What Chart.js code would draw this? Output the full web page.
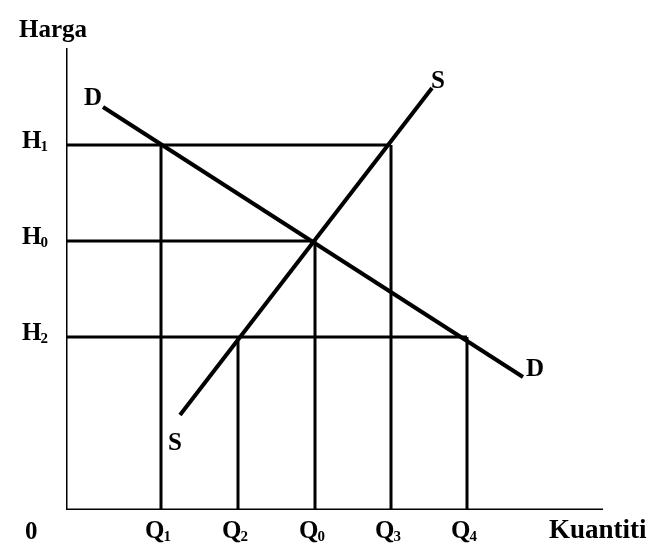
<!DOCTYPE html>
<html>
<head>
<meta charset="utf-8">
<script src="https://cdn.jsdelivr.net/npm/chart.js@4/dist/chart.umd.min.js"></script>
<style>
html,body{margin:0;padding:0;background:#fff;}
canvas{display:block;}
</style>
</head>
<body>
<canvas id="c" width="647" height="545"></canvas>
<script>
// Quantity levels (x) and price levels (y), in chart units
const qNames = ['Q1', 'Q2', 'Q0', 'Q3', 'Q4'];
const qValues = [95, 172, 249, 325, 401];
const hNames = ['H1', 'H0', 'H2'];
const hValues = [365, 269, 173];
// which price each quantity line rises to
const qTops = [365, 173, 269, 365, 173];
// which quantity each price line runs to
const hEnds = [325, 249, 401];
// Demand curve D endpoints
const demandX = [37, 457];
const demandY = [403, 133];
// Supply curve S endpoints
const supplyX = [114, 366];
const supplyY = [95, 422];
// axis extents
const xMax = 537;
const yMax = 462;
const axisTitleX = 'Kuantiti';
const axisTitleY = 'Harga';
const originLabel = '0';

const datasets = [];
const black = '#000';
function seg(xs, ys, w) {
  datasets.push({
    data: xs.map((x, i) => ({x: x, y: ys[i]})),
    showLine: true, borderColor: black, borderWidth: w,
    pointRadius: 0, fill: false, tension: 0, borderCapStyle: 'butt'
  });
}
// axes
seg([0, 0], [0, yMax], 3);
seg([0, xMax], [0, 0], 3);
// guides
qValues.forEach((q, i) => seg([q, q], [0, qTops[i]], 3));
hValues.forEach((h, i) => seg([0, hEnds[i]], [h, h], 3));
// curves
seg(demandX, demandY, 4);
seg(supplyX, supplyY, 4);

const FONT = '"Liberation Serif", "Times New Roman", serif';
function drawSub(ctx, label, x, y, align) {
  const main = label.charAt(0), sub = label.slice(1);
  ctx.font = 'bold 25px ' + FONT;
  const w1 = ctx.measureText(main).width;
  ctx.font = 'bold 15px ' + FONT;
  const w2 = ctx.measureText(sub).width;
  const total = w1 + w2 - 1;
  let sx = x;
  if (align === 'center') sx = x - total / 2;
  else if (align === 'right') sx = x - total;
  ctx.textAlign = 'left';
  ctx.textBaseline = 'alphabetic';
  ctx.font = 'bold 25px ' + FONT;
  ctx.fillText(main, sx, y);
  ctx.font = 'bold 15px ' + FONT;
  ctx.fillText(sub, sx + w1 - 1, y + 3);
}

const labelPlugin = {
  id: 'labels',
  afterDatasetsDraw(chart) {
    const ctx = chart.ctx;
    const xs = chart.scales.x, ys = chart.scales.y;
    ctx.save();
    ctx.fillStyle = black;
    const base = ys.getPixelForValue(0);
    qNames.forEach((n, i) => drawSub(ctx, n, xs.getPixelForValue(qValues[i]) - 3, base + 28, 'center'));
    hNames.forEach((n, i) => drawSub(ctx, n, xs.getPixelForValue(0) - 18, ys.getPixelForValue(hValues[i]) + 3, 'right'));
    ctx.font = 'bold 25px ' + FONT;
    ctx.textBaseline = 'alphabetic';
    ctx.textAlign = 'left';
    ctx.fillText(originLabel, 25, base + 29);
    ctx.fillText(axisTitleY, 19, 37);
    // curve labels
    ctx.fillText('D', xs.getPixelForValue(demandX[0]) - 19, ys.getPixelForValue(demandY[0]) - 2);
    ctx.fillText('D', xs.getPixelForValue(demandX[1]) + 3, ys.getPixelForValue(demandY[1]) - 1);
    ctx.fillText('S', xs.getPixelForValue(supplyX[1]) - 1, ys.getPixelForValue(supplyY[1]) + 0);
    ctx.fillText('S', xs.getPixelForValue(supplyX[0]) - 12, ys.getPixelForValue(supplyY[0]) + 35);
    ctx.font = 'bold 27px ' + FONT;
    ctx.fillText(axisTitleX, 549, base + 28);
    ctx.restore();
  }
};

new Chart(document.getElementById('c'), {
  type: 'scatter',
  data: {datasets: datasets},
  options: {
    responsive: false,
    animation: false,
    devicePixelRatio: 1,
    layout: {padding: {left: 66, right: 44, top: 48, bottom: 35}},
    plugins: {legend: {display: false}, tooltip: {enabled: false}},
    scales: {
      x: {type: 'linear', min: 0, max: xMax, display: false},
      y: {type: 'linear', min: 0, max: yMax, display: false}
    }
  },
  plugins: [labelPlugin]
});
</script>
</body>
</html>
